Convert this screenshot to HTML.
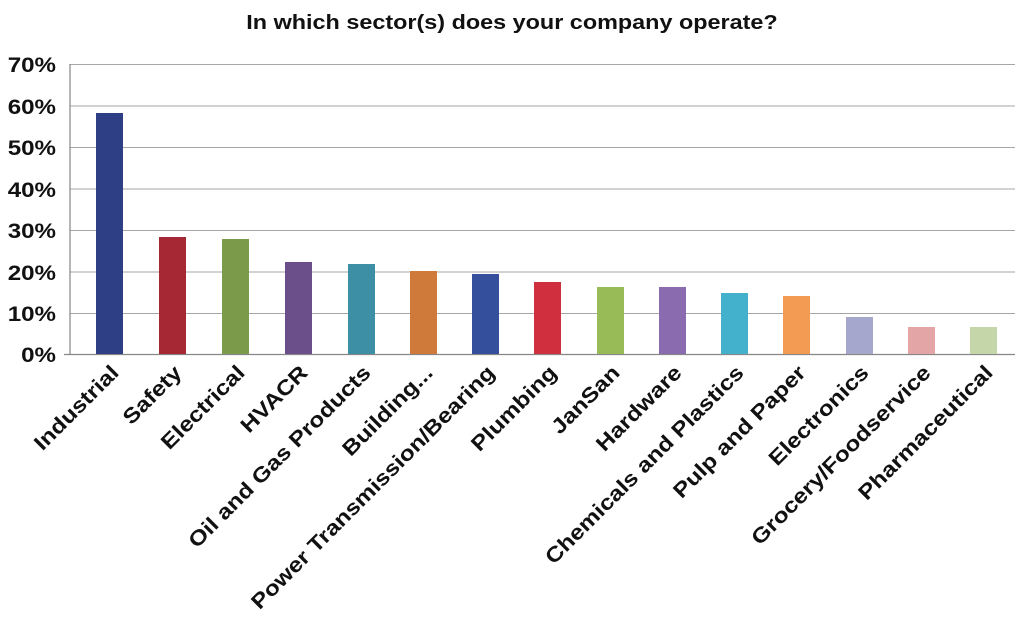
<!DOCTYPE html>
<html><head><meta charset="utf-8"><style>
html,body{margin:0;padding:0;background:#fff;}
svg{display:block;}
text{font-family:"Liberation Sans",Arial,sans-serif;font-weight:bold;fill:#111;}
</style></head><body>
<svg width="1024" height="629" viewBox="0 0 1024 629">
<text transform="translate(512,29) scale(1.17,1)" font-size="20" text-anchor="middle">In which sector(s) does your company operate?</text>
<g stroke="#a6a6a6" stroke-width="1">
<line x1="70" y1="64.5" x2="1015" y2="64.5"/>
<line x1="70" y1="106" x2="1015" y2="106"/>
<line x1="70" y1="147.5" x2="1015" y2="147.5"/>
<line x1="70" y1="189" x2="1015" y2="189"/>
<line x1="70" y1="230.5" x2="1015" y2="230.5"/>
<line x1="70" y1="272" x2="1015" y2="272"/>
<line x1="70" y1="313.5" x2="1015" y2="313.5"/>
</g>
<g stroke="#868686" stroke-width="1.2">
<line x1="70" y1="64" x2="70" y2="355"/>
<line x1="64" y1="354.5" x2="1015" y2="354.5"/>
</g>
<g font-size="21" text-anchor="end">
<text transform="translate(56,72) scale(1.15,1)">70%</text><text transform="translate(56,114) scale(1.15,1)">60%</text><text transform="translate(56,155) scale(1.15,1)">50%</text>
<text transform="translate(56,197) scale(1.15,1)">40%</text><text transform="translate(56,238) scale(1.15,1)">30%</text><text transform="translate(56,280) scale(1.15,1)">20%</text>
<text transform="translate(56,321) scale(1.15,1)">10%</text><text transform="translate(56,362) scale(1.15,1)">0%</text>
</g>
<g>
<rect x="96" y="113" width="27" height="241" fill="#2e3f85"/>
<rect x="159" y="237" width="27" height="117" fill="#a52834"/>
<rect x="222" y="239" width="27" height="115" fill="#7b9b4b"/>
<rect x="285" y="262" width="27" height="92" fill="#6a4f8a"/>
<rect x="348" y="264" width="27" height="90" fill="#3d8fa6"/>
<rect x="410" y="271" width="27" height="83" fill="#cf7a3a"/>
<rect x="472" y="274" width="27" height="80" fill="#344f9c"/>
<rect x="534" y="282" width="27" height="72" fill="#d02f3d"/>
<rect x="597" y="287" width="27" height="67" fill="#98bb57"/>
<rect x="659" y="287" width="27" height="67" fill="#8a6bb0"/>
<rect x="721" y="293" width="27" height="61" fill="#43b0cc"/>
<rect x="783" y="296" width="27" height="58" fill="#f39b52"/>
<rect x="846" y="317" width="27" height="37" fill="#a5a8cc"/>
<rect x="908" y="327" width="27" height="27" fill="#e4a5a7"/>
<rect x="970" y="327" width="27" height="27" fill="#c5d6a8"/>
</g>
<g font-size="21" text-anchor="end">
<text transform="translate(120,374) rotate(-45) scale(1.16,1)">Industrial</text>
<text transform="translate(183,374) rotate(-45) scale(1.16,1)">Safety</text>
<text transform="translate(246,374) rotate(-45) scale(1.16,1)">Electrical</text>
<text transform="translate(309,374) rotate(-45) scale(1.16,1)">HVACR</text>
<text transform="translate(372,374) rotate(-45) scale(1.16,1)">Oil and Gas Products</text>
<text transform="translate(434,374) rotate(-45) scale(1.16,1)">Building...</text>
<text transform="translate(496,374) rotate(-45) scale(1.16,1)">Power Transmission/Bearing</text>
<text transform="translate(558,374) rotate(-45) scale(1.16,1)">Plumbing</text>
<text transform="translate(621,374) rotate(-45) scale(1.16,1)">JanSan</text>
<text transform="translate(683,374) rotate(-45) scale(1.16,1)">Hardware</text>
<text transform="translate(745,374) rotate(-45) scale(1.16,1)">Chemicals and Plastics</text>
<text transform="translate(807,374) rotate(-45) scale(1.16,1)">Pulp and Paper</text>
<text transform="translate(870,374) rotate(-45) scale(1.16,1)">Electronics</text>
<text transform="translate(932,374) rotate(-45) scale(1.16,1)">Grocery/Foodservice</text>
<text transform="translate(994,374) rotate(-45) scale(1.16,1)">Pharmaceutical</text>
</g>
</svg>
</body></html>
